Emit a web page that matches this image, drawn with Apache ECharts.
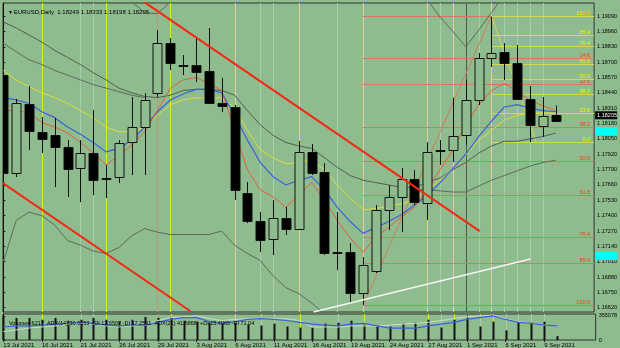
<!DOCTYPE html>
<html><head><meta charset="utf-8">
<script src="https://cdn.jsdelivr.net/npm/echarts@6/dist/echarts.min.js"></script>
<style>html,body{margin:0;padding:0;background:#8fbc8f}#c{width:620px;height:348px}</style>
</head><body><div id="c"></div><script>
// ---------- data ----------
const dates = ['13 Jul 2021','14 Jul 2021','15 Jul 2021','16 Jul 2021','19 Jul 2021','20 Jul 2021','21 Jul 2021','22 Jul 2021','23 Jul 2021','26 Jul 2021','27 Jul 2021','28 Jul 2021','29 Jul 2021','30 Jul 2021','2 Aug 2021','3 Aug 2021','4 Aug 2021','5 Aug 2021','6 Aug 2021','9 Aug 2021','10 Aug 2021','11 Aug 2021','12 Aug 2021','13 Aug 2021','16 Aug 2021','17 Aug 2021','18 Aug 2021','19 Aug 2021','20 Aug 2021','23 Aug 2021','24 Aug 2021','25 Aug 2021','26 Aug 2021','27 Aug 2021','30 Aug 2021','31 Aug 2021','1 Sep 2021','2 Sep 2021','3 Sep 2021','6 Sep 2021','7 Sep 2021','8 Sep 2021','9 Sep 2021','10 Sep 2021'];
const opens  = [1.18591,1.17761,1.18345,1.18108,1.18083,1.17981,1.17803,1.17930,1.17710,1.17727,1.18023,1.18150,1.18438,1.18862,1.18675,1.18675,1.18625,1.18354,1.18320,1.17591,1.17354,1.17202,1.17380,1.17287,1.17939,1.17769,1.17092,1.17092,1.16745,1.16931,1.17447,1.17558,1.17710,1.17507,1.17947,1.17956,1.18083,1.18379,1.18735,1.18786,1.18692,1.18388,1.18159,1.18249];
const highs  = [1.18616,1.18388,1.18498,1.18235,1.18227,1.18040,1.18040,1.18294,1.17829,1.18040,1.18404,1.18438,1.18972,1.18904,1.18760,1.18913,1.18989,1.18565,1.18337,1.17685,1.17431,1.17532,1.17473,1.18032,1.18006,1.17845,1.17431,1.17168,1.17049,1.17490,1.17659,1.17803,1.17786,1.18023,1.18040,1.18400,1.18550,1.18777,1.19085,1.18862,1.18845,1.18498,1.18404,1.18333];
const lows   = [1.17718,1.17727,1.17956,1.17930,1.17642,1.17558,1.17515,1.17574,1.17549,1.17676,1.17744,1.17744,1.18404,1.18633,1.18591,1.18531,1.18345,1.18277,1.17532,1.17337,1.17092,1.17066,1.17236,1.17278,1.17744,1.17066,1.16939,1.16660,1.16643,1.16914,1.17278,1.17261,1.17490,1.17363,1.17829,1.17854,1.18000,1.18337,1.18659,1.18548,1.18379,1.18023,1.18066,1.18198];
const closes = [1.17761,1.18354,1.18116,1.18049,1.17981,1.17795,1.17930,1.17702,1.17718,1.18015,1.18150,1.18379,1.18862,1.18692,1.18667,1.18616,1.18354,1.18328,1.17617,1.17354,1.17193,1.17380,1.17287,1.17939,1.17761,1.17083,1.17083,1.16745,1.16982,1.17447,1.17558,1.17710,1.17515,1.17939,1.17956,1.18074,1.18379,1.18735,1.18777,1.18692,1.18388,1.18167,1.18244,1.18205];
const volumes = [350000,326000,326000,298000,326000,284000,298000,326000,298000,270000,298000,340000,326000,340000,284000,270000,255000,241000,255000,227000,213000,241000,199000,184000,184000,241000,255000,284000,227000,213000,199000,241000,255000,298000,184000,298000,326000,199000,270000,142000,270000,255000,270000,57000];
const maRed    = [1.1829,1.1829,1.1827,1.1819,1.1815,1.1810,1.1802,1.1793,1.1783,1.1791,1.1800,1.1811,1.1829,1.1848,1.1855,1.1857,1.1852,1.1846,1.1812,1.1779,1.1762,1.1756,1.1747,1.1758,1.1768,1.1753,1.1736,1.1721,1.1709,1.1722,1.1730,1.1739,1.1747,1.1762,1.1779,1.1796,1.1817,1.1834,1.1846,1.1852,1.1845,1.1838,1.1833,1.1829];
const maBlue   = [1.1840,1.1838,1.1835,1.1828,1.1823,1.1815,1.1809,1.1802,1.1794,1.1797,1.1804,1.1815,1.1828,1.1838,1.1843,1.1847,1.1847,1.1844,1.1825,1.1804,1.1785,1.1773,1.1766,1.1770,1.1773,1.1762,1.1747,1.1735,1.1725,1.1730,1.1735,1.1741,1.1749,1.1757,1.1768,1.1780,1.1792,1.1807,1.1820,1.1832,1.1834,1.1831,1.1829,1.1828];
const maYellow = [1.1863,1.1855,1.1849,1.1844,1.1840,1.1835,1.1829,1.1823,1.1815,1.1811,1.1811,1.1815,1.1825,1.1834,1.1838,1.1840,1.1839,1.1840,1.1831,1.1812,1.1796,1.1789,1.1784,1.1785,1.1787,1.1779,1.1766,1.1755,1.1745,1.1746,1.1748,1.1750,1.1753,1.1762,1.1770,1.1780,1.1791,1.1804,1.1812,1.1821,1.1825,1.1827,1.1827,1.1827];
const grayMid  = [1.1904,1.1899,1.1893,1.1887,1.1880,1.1874,1.1868,1.1861,1.1855,1.1848,1.1844,1.1841,1.1840,1.1842,1.1846,1.1847,1.1847,1.1846,1.1842,1.1829,1.1817,1.1808,1.1802,1.1799,1.1797,1.1789,1.1781,1.1774,1.1770,1.1768,1.1766,1.1764,1.1764,1.1768,1.1772,1.1779,1.1785,1.1793,1.1799,1.1803,1.1803,1.1805,1.1807,1.1810];
const graySecond = [1.1886,1.1879,1.1872,1.1868,1.1863,1.1859,1.1855,1.1851,1.1848,1.1845,1.1842,1.1840,null,null,null,null,null,null,null,null,null,null,null,null,null,null,null,null,null,null,null,null,null,null,null,null,null,null,null,null,null,null,null,null];
const grayLow  = [1.1701,1.1736,1.1743,1.1740,1.1732,1.1719,1.1715,1.1710,1.1708,1.1713,1.1723,1.1729,1.1726,1.1724,1.1724,1.1724,1.1724,1.1727,1.1715,1.1708,1.1702,1.1689,1.1679,1.1674,1.1666,1.1657,null,null,null,null,null,null,null,null,null,null,null,null,null,null,null,null,null,null];
const graySlow = [null,null,null,null,null,null,null,null,null,null,null,null,null,null,null,null,null,null,null,null,null,null,null,null,null,null,null,null,null,null,null,null,1.1762,1.1762,1.1761,1.1760,1.1760,1.1765,1.1770,1.1774,1.1778,1.1782,1.1785,1.1787];
const grayUpper= [null,null,null,null,null,null,null,null,null,1.1924,1.1921,1.1912,1.1911,1.1921,1.1924,null,null,null,null,null,null,null,null,null,null,null,null,null,null,null,null,null,null,1.1923,1.1908,1.1896,1.1883,1.1897,1.1912,1.1927,null,null,null,null];
const adxBlue  = [50,54,54,57,61,64,68,64,57,54,57,57,68,79,86,86,71,64,71,79,82,79,75,68,61,57,54,61,64,54,46,46,46,54,61,68,79,86,93,79,68,64,57,54];
const adxLight = [32,39,46,50,54,61,64,61,54,50,54,57,75,86,89,93,82,75,79,82,82,82,82,75,50,50,50,54,54,54,57,61,64,68,75,82,89,93,96,82,71,64,57,54];
const priceTicks = [1.19090,1.18960,1.18830,1.18700,1.18570,1.18440,1.18310,1.18180,1.18050,1.17920,1.17790,1.17660,1.17530,1.17400,1.17270,1.17140,1.17010,1.16880,1.16750,1.16620];
const volTicks = [0, 355078];
const dateTickIdx = [0,3,6,9,12,15,18,21,24,27,30,33,36,39,42];
const yellowVLines = [3,8,13,18,23,28,33,35,38];
const darkVLines = [36];
const faintVLines = [6,7,20,21,26,34,37,39,40,41,42];
const reddishVLines = [12];
const redTrend1 = [[10.98,1.19209],[37.08,1.17269]];
const redTrend2 = [[-0.03,1.17676],[14.6,1.16588]];
const whiteTrend = [[24.14,1.16584],[41.03,1.17032]];
const fibRedRatios = [0,14.6,23.6,38.2,50,61.8,76.4,85.4,100];
const fibRedTop = 1.1909, fibRedBottom = 1.1664, fibRedStart = 28;
const fibYellowRatios = [0,23.6,38.2,50,61.8,76.4,85.4,100];
const fibYellowLow = 1.1802, fibYellowHigh = 1.1909, fibYellowStart = 38;
const fibRedDiag = [[28,1.1664],[38,1.1909]];
const fibYellowDiag = [[38,1.1909],[41.5,1.1802]];
const priceTags = [[1.1825,'1.18205','#000','#fff'],[1.18116,'','#00ffff','#000'],[1.17058,'','#00ffff','#000']];
const titleText = '\u25BE EURUSD,Daily  1.18249 1.18333 1.18198 1.18205';
const volTitle = 'Volumes 6217  ADX(14) 30.0653 +DI 12.0507 -DI 17.2561  ADX(21) 41.6868  +DI 15.4965 -DI 71.04';

// ---------- chart ----------
const BG = '#8fbc8f';
const XMIN = -0.025, XMAX = 45.99;
const chart = echarts.init(document.getElementById('c'));
const candleData = opens.map((o,i)=>[i,o,closes[i],lows[i],highs[i]]);
const fibRedData = fibRedRatios.map(r=>[fibRedStart, fibRedTop - r/100*(fibRedTop-fibRedBottom)]);
const fibYellowData = fibYellowRatios.map(r=>[fibYellowStart, fibYellowLow + r/100*(fibYellowHigh-fibYellowLow)]);
const toXY = arr => arr.map((v,i)=> v==null ? [i,null] : [i,v]);
const lineS = (data, color, width, z, xi, yi) => ({type:'line', data, xAxisIndex:xi||0, yAxisIndex:yi||0, showSymbol:false, symbol:'none', silent:true, clip:true, connectNulls:false, z:z||3, lineStyle:{color, width}});

function fibRender(ratios, color, labelColor){
  return function(params, api){
    const p = api.coord([api.value(0), api.value(1)]);
    const cs = params.coordSys;
    const right = cs.x + cs.width;
    const y = Math.round(p[1]) + 0.5;
    return {type:'group', children:[
      {type:'line', shape:{x1:p[0], y1:y, x2:right, y2:y}, style:{stroke:color, lineWidth:1}},
      {type:'text', style:{text: ratios[params.dataIndex].toFixed(1), x:right-4, y:y, align:'right', verticalAlign:'bottom', fill:labelColor, fontSize:5.5, fontFamily:'Liberation Sans'}}
    ]};
  };
}
function vlineRender(color){
  return function(params, api){
    const x = Math.round(api.coord([api.value(0), 0])[0]) + 0.5;
    const cs = params.coordSys;
    return {type:'line', shape:{x1:x, y1:cs.y, x2:x, y2:cs.y+cs.height}, style:{stroke:color, lineWidth:1}};
  };
}
const vl = (arr, color, xi) => ({type:'custom', xAxisIndex:xi, yAxisIndex:xi, data:arr.map(v=>[v]), renderItem:vlineRender(color), z:1, silent:true});

const series = [
  vl(faintVLines, '#a9cda9', 0), vl(faintVLines, '#a9cda9', 1),
  vl(reddishVLines, '#b89a7a', 0), vl(reddishVLines, '#b89a7a', 1),
  vl(yellowVLines, '#e6e61e', 0), vl(yellowVLines, '#e6e61e', 1),
  vl(darkVLines, '#4d5a4d', 0), vl(darkVLines, '#4d5a4d', 1),
  // fib levels
  {type:'custom', xAxisIndex:0, yAxisIndex:0, data:fibRedData, renderItem:fibRender(fibRedRatios,'#d27a5a','#ff3a10'), z:2, silent:true, clip:true},
  {type:'custom', xAxisIndex:0, yAxisIndex:0, data:fibYellowData, renderItem:fibRender(fibYellowRatios,'#d8d84a','#f4f400'), z:2, silent:true, clip:true},
  lineS(fibRedDiag, '#d27a5a', 1, 2),
  lineS(fibYellowDiag, '#d8d84a', 1, 2),
  // indicator lines
  lineS(toXY(grayUpper), '#5b6b5b', 1, 2),
  lineS(toXY(grayMid), '#4f5f4f', 1, 2),
  lineS(toXY(graySecond), '#5b6b5b', 1, 2),
  lineS(toXY(grayLow), '#5b6b5b', 1, 2),
  lineS(toXY(graySlow), '#5b6b5b', 1, 2),
  lineS(toXY(maYellow), '#dcdc3c', 1, 2),
  lineS(toXY(maBlue), '#3a62d8', 1.2, 2),
  lineS(toXY(maRed), '#e0603c', 1, 2),
  // candles
  {type:'custom', xAxisIndex:0, yAxisIndex:0, data:candleData, z:4, silent:true, clip:true,
   encode:{x:0, y:[1,2,3,4]},
   renderItem(params, api){
     const i = api.value(0), o = api.value(1), c = api.value(2), l = api.value(3), h = api.value(4);
     const x = Math.round(api.coord([i,o])[0]) + 0.5;
     const yo = api.coord([i,o])[1], yc = api.coord([i,c])[1];
     const yl = api.coord([i,l])[1], yh = api.coord([i,h])[1];
     const top = Math.round(Math.min(yo,yc)) + 0.5, bot = Math.round(Math.max(yo,yc)) + 0.5;
     const bull = c >= o, w = 9;
     return {type:'group', children:[
       {type:'line', shape:{x1:x,y1:yh,x2:x,y2:top}, style:{stroke:'#111', lineWidth:1}},
       {type:'line', shape:{x1:x,y1:bot,x2:x,y2:yl}, style:{stroke:'#111', lineWidth:1}},
       {type:'rect', shape:{x:x-w/2, y:top, width:w, height:Math.max(bot-top,1)}, style:{fill: bull?BG:'#000', stroke:'#111', lineWidth:1}}
     ]};
   }},
  // trend lines
  lineS(redTrend1, '#f22a14', 2, 5),
  lineS(redTrend2, '#f22a14', 2, 5),
  lineS(whiteTrend, '#f4f4f4', 1.5, 5),
  // price tags on axis
  {type:'custom', xAxisIndex:0, yAxisIndex:0, data:priceTags.map(t=>[XMAX, t[0]]), z:6, silent:true, clip:false,
   renderItem(params, api){
     const t = priceTags[params.dataIndex];
     const p = api.coord([api.value(0), api.value(1)]);
     const x = params.coordSys.x + params.coordSys.width + 1;
     return {type:'group', children:[
       {type:'rect', shape:{x:x, y:p[1]-4, width:22, height:8}, style:{fill:t[2]}},
       {type:'text', style:{text:t[1], x:x+2, y:p[1], verticalAlign:'middle', fill:t[3], fontSize:5.5, fontFamily:'Liberation Sans'}}
     ]};
   }},
  // volume pane
  {type:'custom', xAxisIndex:1, yAxisIndex:1, data:volumes.map((v,i)=>[i,v]), z:3, silent:true,
   renderItem(params, api){
     const p0 = api.coord([api.value(0), 0]), p1 = api.coord([api.value(0), api.value(1)]);
     const x = Math.round(p0[0]);
     return {type:'rect', shape:{x:x-0.5, y:p1[1], width:2, height:p0[1]-p1[1]}, style:{fill:'#111'}};
   }},
  lineS(toXY(adxLight), '#c8dcc8', 1, 3, 1, 2),
  lineS(toXY(adxBlue), '#3a62d8', 1.2, 3, 1, 2)
];

chart.setOption({
  animation:false,
  backgroundColor:BG,
  textStyle:{fontFamily:'Liberation Sans'},
  title:[
    {text:titleText, left:4, top:4, textStyle:{fontSize:6, fontWeight:'normal', color:'#000', fontFamily:'Liberation Sans'}},
    {text:volTitle, left:4, top:315, textStyle:{fontSize:5.5, fontWeight:'normal', color:'#000', fontFamily:'Liberation Sans'}}
  ],
  grid:[
    {left:3, right:23, top:3, height:309, show:true, borderColor:'#333', borderWidth:1, backgroundColor:'transparent'},
    {left:3, right:23, top:314, height:27, show:true, borderColor:'#333', borderWidth:1, backgroundColor:'transparent'}
  ],
  xAxis:[
    {type:'value', gridIndex:0, min:XMIN, max:XMAX, show:false},
    {type:'value', gridIndex:1, min:XMIN, max:XMAX, axisLine:{show:false}, splitLine:{show:false},
     axisTick:{show:true, customValues:dateTickIdx, length:2, lineStyle:{color:'#222'}},
     axisLabel:{customValues:dateTickIdx, formatter:v=>dates[Math.round(v)] || '', fontSize:6, color:'#000', align:'left', margin:2, fontFamily:'Liberation Sans'}}
  ],
  yAxis:[
    {type:'value', gridIndex:0, position:'right', min:1.16584, max:1.19201, scale:true,
     axisLine:{show:true, lineStyle:{color:'#111'}}, splitLine:{show:false},
     axisTick:{show:true, customValues:priceTicks, length:2, lineStyle:{color:'#111'}},
     axisLabel:{customValues:priceTicks, formatter:v=>v.toFixed(5), fontSize:5.5, color:'#000', margin:3, fontFamily:'Liberation Sans'}},
    {type:'value', gridIndex:1, position:'right', min:0, max:383000,
     axisLine:{show:true, lineStyle:{color:'#111'}}, splitLine:{show:false},
     axisTick:{show:true, customValues:volTicks, length:2},
     axisLabel:{customValues:volTicks, formatter:v=>String(v), fontSize:5.5, color:'#000', margin:3, fontFamily:'Liberation Sans'}},
    {type:'value', gridIndex:1, min:0, max:100, show:false}
  ],
  series
});
</script></body></html>
